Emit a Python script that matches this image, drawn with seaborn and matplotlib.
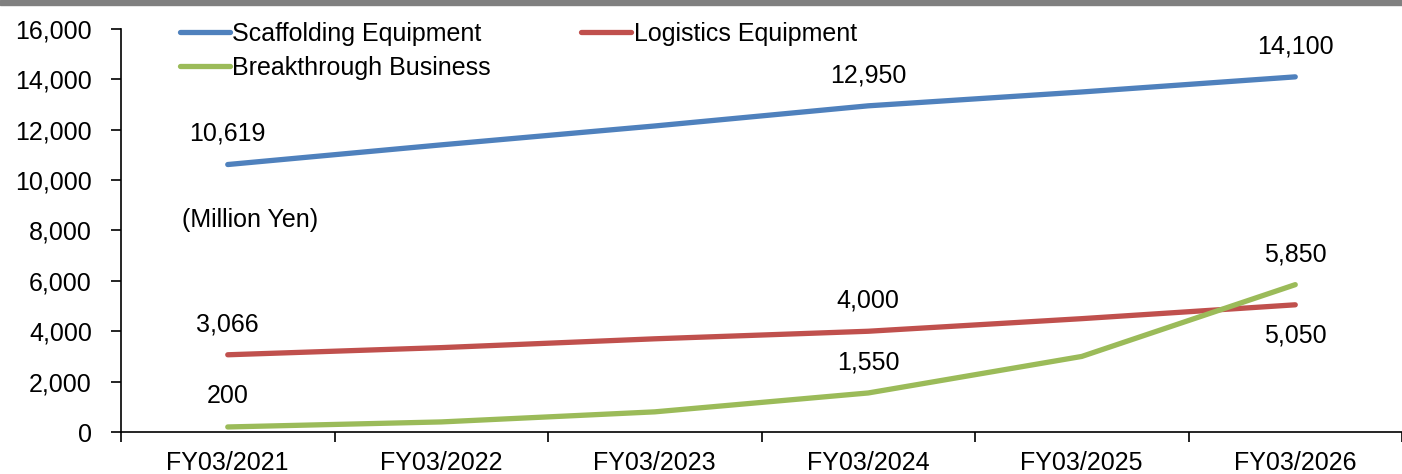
import pandas as pd
import matplotlib.pyplot as plt
import seaborn as sns
from matplotlib.patches import Rectangle

years = ['FY03/2021', 'FY03/2022', 'FY03/2023', 'FY03/2024', 'FY03/2025', 'FY03/2026']
scaffolding = [10619, 11400, 12150, 12950, 13500, 14100]
logistics = [3066, 3350, 3700, 4000, 4500, 5050]
breakthrough = [200, 400, 800, 1550, 3000, 5850]
series_names = ['Scaffolding Equipment', 'Logistics Equipment', 'Breakthrough Business']
labelled_idx = [0, 3, 5]

colors = ['#4F81BD', '#C0504D', '#9BBB59']
FS = 18

df = pd.DataFrame({
    'year': years * 3,
    'pos': list(range(len(years))) * 3,
    'value': scaffolding + logistics + breakthrough,
    'series': [s for s in series_names for _ in years],
})

sns.set_style('white')
plt.rcParams['font.family'] = ['Liberation Sans', 'DejaVu Sans']
plt.rcParams['text.color'] = 'black'

fig = plt.figure(figsize=(14.02, 4.74), dpi=100)
ax = fig.add_axes([121 / 1402, 1 - 432 / 474, 1 - 121 / 1402, (432 - 29) / 474])

sns.lineplot(data=df, x='pos', y='value', hue='series', palette=colors,
             linewidth=3.8, sort=False, ax=ax, legend=True)

# data labels
for name, vals in zip(series_names, [scaffolding, logistics, breakthrough]):
    for i in labelled_idx:
        dy = 22
        if name == 'Logistics Equipment' and i == 5:
            dy = -22
        ax.annotate(f'{vals[i]:,}', (i, vals[i]), xytext=(0, dy),
                    textcoords='offset points', ha='center', va='center',
                    fontsize=FS, color='black')

ax.text(0.048, 0.526, '(Million Yen)', transform=ax.transAxes,
        fontsize=FS, ha='left', va='center', color='black')

ax.set_xlim(-0.5, len(years) - 0.5)
ax.set_ylim(0, 16000)
ax.set_yticks(range(0, 16001, 2000))
ax.set_yticklabels([f'{v:,}' for v in range(0, 16001, 2000)], fontsize=FS)
ax.set_xticks(range(len(years)))
ax.set_xticklabels(years, fontsize=FS)
ax.set_xticks([i - 0.5 for i in range(len(years) + 1)], minor=True)
ax.tick_params(axis='x', which='major', bottom=True, length=0, pad=14, labelcolor='black')
ax.tick_params(axis='x', which='minor', bottom=True, length=7, width=1.2,
               color='black', direction='out')
ax.tick_params(axis='y', which='major', left=True, length=7, width=1.2,
               color='black', direction='out', pad=14, labelcolor='black')
ax.set_xlabel('')
ax.set_ylabel('')

for side in ['top', 'right']:
    ax.spines[side].set_visible(False)
for side in ['left', 'bottom']:
    ax.spines[side].set_color('black')
    ax.spines[side].set_linewidth(1.2)

# order so that rows read: Scaffolding, Logistics / Breakthrough
handles, labels = ax.get_legend_handles_labels()
order = [0, 2, 1]
leg = ax.legend([handles[i] for i in order], [labels[i] for i in order], ncol=2, loc='upper left',
                bbox_to_anchor=(170 / 1402, 1 - 12 / 474), bbox_transform=fig.transFigure,
                frameon=False, fontsize=FS, handlelength=2.0, handletextpad=0.1,
                columnspacing=3.6, labelspacing=0.38, borderaxespad=0)
for t in leg.get_texts():
    t.set_color('black')

# grey band across the top
fig.patches.append(Rectangle((0, 1 - 5 / 474), 1, 5 / 474, transform=fig.transFigure,
                             color='#808080', zorder=0))

fig.savefig('out.png', dpi=100)
